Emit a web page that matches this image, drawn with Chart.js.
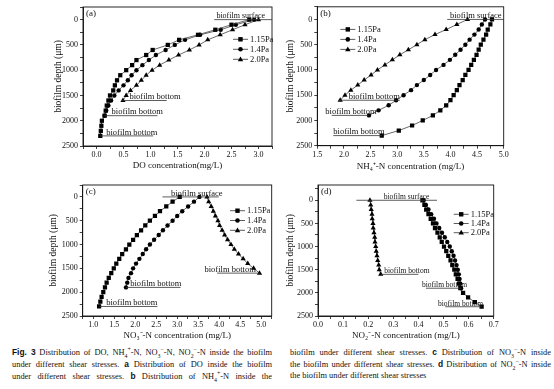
<!DOCTYPE html>
<html><head><meta charset="utf-8">
<script src="https://cdn.jsdelivr.net/npm/chart.js@4.4.1/dist/chart.umd.min.js"></script>
<style>
html,body{margin:0;padding:0;background:#fff;}
body{width:554px;height:389px;position:relative;overflow:hidden;font-family:"Liberation Serif","Times New Roman",serif;color:#111;}
canvas{position:absolute;}
.cap{position:absolute;top:347px;font-size:8.4px;line-height:10.8px;}
.cap div{text-align:justify;text-align-last:justify;white-space:nowrap;}
.cap div.last{text-align:left;text-align-last:left;}
.cap b{font-family:"Liberation Sans",Arial,sans-serif;font-weight:bold;}
sub,sup{font-size:70%;line-height:0;}
</style></head>
<body>
<canvas id="ca"></canvas>
<canvas id="cb"></canvas>
<canvas id="cc"></canvas>
<canvas id="cd"></canvas>
<div class="cap" style="left:12px;width:260px">
<div><b>Fig. 3</b> Distribution of DO, NH<sub>4</sub><sup>+</sup>-N, NO<sub>3</sub><sup>−</sup>-N, NO<sub>2</sub><sup>−</sup>-N inside the biofilm</div>
<div>under different shear stresses. <b>a</b> Distribution of DO inside the biofilm</div>
<div>under different shear stresses. <b>b</b> Distribution of NH<sub>4</sub><sup>+</sup>-N inside the</div>
</div>
<div class="cap" style="left:290px;width:261px">
<div>biofilm under different shear stresses. <b>c</b> Distribution of NO<sub>3</sub><sup>−</sup>-N inside</div>
<div>the biofilm under different shear stresses. <b>d</b> Distribution of NO<sub>2</sub><sup>−</sup>-N inside</div>
<div class="last">the biofilm under different shear stresses</div>
</div>
<script>
// ---- data (depth in µm, concentration in mg/L) ----
const seriesNames = ["1.15Pa", "1.4Pa", "2.0Pa"];
const depth115 = [0,100,200,300,400,500,600,700,800,900,1000,1100,1200,1300,1400,1500,1600,1700,1800,1900,2000,2100,2200,2300];
const depth14  = [0,100,200,300,400,500,600,700,800,900,1000,1100,1200,1300,1400,1500,1600,1700,1800,1900];
const depth20  = [0,100,200,300,400,500,600,700,800,900,1000,1100,1200,1300,1400,1500,1600];

const do115 = [2.83,2.50,2.20,1.88,1.53,1.32,1.04,0.92,0.74,0.66,0.55,0.44,0.38,0.34,0.31,0.25,0.22,0.19,0.17,0.15,0.10,0.09,0.08,0.07];
const do14  = [2.92,2.58,2.30,1.92,1.64,1.45,1.28,1.10,0.97,0.85,0.74,0.65,0.58,0.50,0.41,0.33,0.27,0.22,0.18,0.15];
const do20  = [3.00,2.75,2.52,2.29,2.06,1.90,1.72,1.52,1.34,1.17,1.03,0.92,0.83,0.74,0.63,0.55,0.49];

const nh115 = [4.78,4.75,4.70,4.67,4.62,4.57,4.53,4.49,4.44,4.39,4.34,4.28,4.23,4.17,4.12,4.06,4.00,3.92,3.81,3.67,3.48,3.28,3.03,2.71];
const nh14  = [4.65,4.59,4.53,4.45,4.36,4.28,4.19,4.09,3.99,3.87,3.73,3.62,3.50,3.37,3.26,3.12,2.98,2.84,2.65,2.47];
const nh20  = [4.32,4.12,3.92,3.71,3.52,3.37,3.21,3.05,2.91,2.77,2.63,2.51,2.38,2.26,2.13,2.02,1.93];

const no3_115 = [3.06,2.89,2.74,2.59,2.47,2.35,2.24,2.14,2.04,1.95,1.86,1.78,1.69,1.62,1.55,1.49,1.43,1.37,1.32,1.28,1.24,1.20,1.17,1.14];
const no3_14  = [3.53,3.40,3.26,3.12,3.00,2.89,2.77,2.66,2.56,2.45,2.35,2.26,2.18,2.10,2.02,1.95,1.90,1.84,1.81,1.78];
const no3_20  = [3.71,3.75,3.81,3.86,3.91,3.97,4.01,4.07,4.13,4.20,4.28,4.36,4.46,4.57,4.68,4.82,4.96];

const no2_115 = [0.416,0.424,0.431,0.440,0.449,0.458,0.466,0.476,0.485,0.493,0.502,0.511,0.519,0.528,0.535,0.543,0.549,0.556,0.562,0.567,0.578,0.598,0.625,0.652];
const no2_14  = [0.421,0.430,0.440,0.451,0.462,0.472,0.483,0.494,0.505,0.515,0.525,0.533,0.540,0.546,0.552,0.557,0.561,0.564,0.567,0.570];
const no2_20  = [0.207,0.210,0.212,0.215,0.216,0.219,0.220,0.223,0.226,0.227,0.230,0.232,0.235,0.238,0.242,0.244,0.250];

const yTitle = "biofilm depth (μm)";
const depthTicks = [0,500,1000,1500,2000,2500];

// ---- drawing helpers ----
const SERIF = "'Liberation Serif','Times New Roman',serif";
const marks = ["rect","circle","triangle"];
function drawMark(ctx, style, x, y) {
  ctx.beginPath();
  if (style === "rect") { ctx.rect(x-2.2, y-2.2, 4.4, 4.4); }
  else if (style === "circle") { ctx.arc(x, y, 2.3, 0, Math.PI*2); }
  else { ctx.moveTo(x, y-2.9); ctx.lineTo(x+2.7, y+1.9); ctx.lineTo(x-2.7, y+1.9); ctx.closePath(); }
  ctx.fillStyle = "#000"; ctx.fill();
}

const decorPlugin = {
  id: "decor",
  afterDatasetsDraw(chart, args, o) {
    const ctx = chart.ctx, a = chart.chartArea, xs = chart.scales.x, ys = chart.scales.y;
    ctx.save();
    // frame
    ctx.strokeStyle = "#111"; ctx.lineWidth = 0.9;
    ctx.strokeRect(a.left, a.top, a.right - a.left, a.bottom - a.top);
    // annotations
    ctx.strokeStyle = "#333"; ctx.lineWidth = 0.8; ctx.fillStyle = "#111";
    ctx.textBaseline = "alphabetic"; ctx.textAlign = "left";
    o.notes.forEach(n => {
      const py = ys.getPixelForValue(n.y);
      ctx.beginPath();
      ctx.moveTo(xs.getPixelForValue(n.x1), py);
      ctx.lineTo(Math.min(xs.getPixelForValue(n.x2), a.right), py);
      ctx.stroke();
      ctx.font = n.size + "px " + SERIF;
      ctx.fillText(n.text, xs.getPixelForValue(n.tx), py - 1.2);
    });
    // panel tag
    ctx.font = "9px " + SERIF; ctx.textBaseline = "middle";
    ctx.fillText(o.tag, a.left + 3, a.top + 7);
    // legend
    ctx.font = "8.5px " + SERIF;
    chart.data.datasets.forEach((d, i) => {
      const lx = a.left + o.legend.x, ly = a.top + o.legend.y + i * o.legend.gap;
      ctx.strokeStyle = "#333"; ctx.lineWidth = 0.8;
      ctx.beginPath(); ctx.moveTo(lx, ly); ctx.lineTo(lx + 15, ly); ctx.stroke();
      drawMark(ctx, marks[i], lx + 7.5, ly);
      ctx.fillStyle = "#111"; ctx.textBaseline = "middle";
      ctx.fillText(d.label, lx + 17, ly + 0.5);
    });
    ctx.restore();
  }
};

function build(id, p) {
  const cv = document.getElementById(id);
  cv.width = p.box.w; cv.height = p.box.h;
  cv.style.left = p.box.x + "px"; cv.style.top = p.box.y + "px";
  const padTop = p.area.t - p.box.y;
  const padRight = p.box.x + p.box.w - p.area.r;
  const yW = p.area.l - p.box.x;
  const xH = p.box.y + p.box.h - p.area.b;
  const fy = 9.5, fx = 9;
  const yTitlePad = p.yTitleX - p.box.x - fy * 1.2 / 2;
  const xTitlePad = (p.box.y + p.box.h) - p.xTitleY - fx * 1.2 / 2;
  const datasets = p.series.map((s, i) => ({
    label: seriesNames[i],
    data: s.x.map((v, k) => ({ x: v, y: s.y[k] })),
    showLine: true, borderColor: "#444", borderWidth: 0.8,
    pointStyle: marks[i],
    pointRadius: i === 0 ? 3 : (i === 1 ? 2.2 : 3),
    pointBackgroundColor: "#000", pointBorderColor: "#000", pointBorderWidth: 0
  }));
  const isLab = v => Math.abs(v / p.labStep - Math.round(v / p.labStep)) < 1e-6;
  new Chart(cv, {
    type: "scatter",
    data: { datasets },
    options: {
      responsive: false, animation: false, devicePixelRatio: 1,
      layout: { padding: { top: padTop, right: padRight, left: 0, bottom: 0 } },
      plugins: { legend: { display: false }, tooltip: { enabled: false },
        decor: { notes: p.notes, tag: p.tag, legend: p.legend } },
      scales: {
        x: {
          type: "linear", min: p.xMin, max: p.xMax,
          afterFit: s => { s.height = xH; },
          ticks: { stepSize: p.step, autoSkip: false, includeBounds: false, maxRotation: 0,
            padding: 1, color: "#111", font: { family: SERIF, size: 8 },
            callback: v => (isLab(v) ? v.toFixed(1) : "") },
          grid: { drawOnChartArea: false, drawTicks: true, tickLength: 3, color: "#111", lineWidth: 0.8 },
          border: { display: true, color: "#111", width: 0.9 },
          title: { display: true, text: p.xTitle, color: "#111", font: { family: SERIF, size: fx },
            padding: { top: 0, bottom: xTitlePad } }
        },
        y: {
          type: "linear", reverse: true, min: p.yMin, max: 2500,
          afterFit: s => { s.width = yW; },
          ticks: { stepSize: 250, autoSkip: false, includeBounds: false, padding: 2,
            color: "#111", font: { family: SERIF, size: 8 },
            callback: v => (depthTicks.includes(v) ? String(v) : "") },
          grid: { drawOnChartArea: false, drawTicks: true, tickLength: 3, color: "#111", lineWidth: 0.8 },
          border: { display: true, color: "#111", width: 0.9 },
          title: { display: true, text: yTitle, color: "#111", font: { family: SERIF, size: fy },
            padding: { top: yTitlePad, bottom: 0 } }
        }
      }
    },
    plugins: [decorPlugin]
  });
}

build("ca", {
  box: { x: 0, y: 0, w: 277, h: 178 }, area: { l: 83, t: 7, r: 272, b: 146 },
  yTitleX: 58, xTitleY: 165.7, xMin: -0.25, xMax: 3.25, yMin: -250, step: 0.25, labStep: 0.5,
  xTitle: "DO concentration(mg/L)", tag: "(a)", legend: { x: 150, y: 32.3, gap: 10 },
  series: [{ x: do115, y: depth115 }, { x: do14, y: depth14 }, { x: do20, y: depth20 }],
  notes: [
    { text: "biofilm surface", tx: 2.22, x1: 2.18, x2: 3.3, y: 0, size: 8 },
    { text: "biofilm bottom", tx: 0.61, x1: 0.46, x2: 1.3, y: 1600, size: 8.5 },
    { text: "biofilm bottom", tx: 0.28, x1: 0.15, x2: 1.13, y: 1900, size: 8.5 },
    { text: "biofilm bottom", tx: 0.18, x1: 0.07, x2: 1.05, y: 2300, size: 8.5 }
  ]
});
build("cb", {
  box: { x: 277, y: 0, w: 277, h: 178 }, area: { l: 317.3, t: 6.7, r: 503.7, b: 145.7 },
  yTitleX: 290.3, xTitleY: 167, xMin: 1.5, xMax: 5.0, yMin: -250, step: 0.25, labStep: 0.5,
  xTitle: "NH₄⁺-N concentration (mg/L)", tag: "(b)", legend: { x: 23, y: 22.6, gap: 10 },
  series: [{ x: nh115, y: depth115 }, { x: nh14, y: depth14 }, { x: nh20, y: depth20 }],
  notes: [
    { text: "biofilm surface", tx: 3.99, x1: 3.94, x2: 5.1, y: 0, size: 8.5 },
    { text: "biofilm bottom", tx: 2.09, x1: 1.9, x2: 3.05, y: 1600, size: 8.5 },
    { text: "biofilm bottom", tx: 1.65, x1: 1.77, x2: 2.46, y: 1900, size: 8.5 },
    { text: "biofilm bottom", tx: 1.80, x1: 1.80, x2: 2.71, y: 2300, size: 8.5 }
  ]
});
build("cc", {
  box: { x: 0, y: 178, w: 277, h: 168 }, area: { l: 82.7, t: 185, r: 271.7, b: 316 },
  yTitleX: 53.3, xTitleY: 335.7, xMin: 0.75, xMax: 5.25, yMin: -250, step: 0.25, labStep: 0.5,
  xTitle: "NO₃⁻-N concentration (mg/L)", tag: "(c)", legend: { x: 147.3, y: 25.7, gap: 9.8 },
  series: [{ x: no3_115, y: depth115 }, { x: no3_14, y: depth14 }, { x: no3_20, y: depth20 }],
  notes: [
    { text: "biofilm surface", tx: 2.85, x1: 2.65, x2: 3.99, y: 0, size: 8.5 },
    { text: "biofilm bottom", tx: 3.65, x1: 3.95, x2: 4.96, y: 1600, size: 8.5 },
    { text: "biofilm bottom", tx: 1.88, x1: 1.78, x2: 3.08, y: 1900, size: 8.5 },
    { text: "biofilm bottom", tx: 1.31, x1: 1.15, x2: 2.53, y: 2300, size: 8.5 }
  ]
});
build("cd", {
  box: { x: 277, y: 178, w: 277, h: 168 }, area: { l: 318, t: 185, r: 493.7, b: 316 },
  yTitleX: 290.3, xTitleY: 336, xMin: 0, xMax: 0.7, yMin: -330, step: 0.05, labStep: 0.1,
  xTitle: "NO₂⁻-N concentration (mg/L)", tag: "(d)", legend: { x: 135.7, y: 29.3, gap: 9.2 },
  series: [{ x: no2_115, y: depth115 }, { x: no2_14, y: depth14 }, { x: no2_20, y: depth20 }],
  notes: [
    { text: "biofilm surface", tx: 0.262, x1: 0.153, x2: 0.474, y: 0, size: 7.5 },
    { text: "biofilm bottom", tx: 0.264, x1: 0.25, x2: 0.40, y: 1600, size: 7.5 },
    { text: "biofilm bottom", tx: 0.414, x1: 0.43, x2: 0.57, y: 1900, size: 7.5 },
    { text: "biofilm bottom", tx: 0.478, x1: 0.507, x2: 0.652, y: 2300, size: 7.5 }
  ]
});
</script>
</body></html>
